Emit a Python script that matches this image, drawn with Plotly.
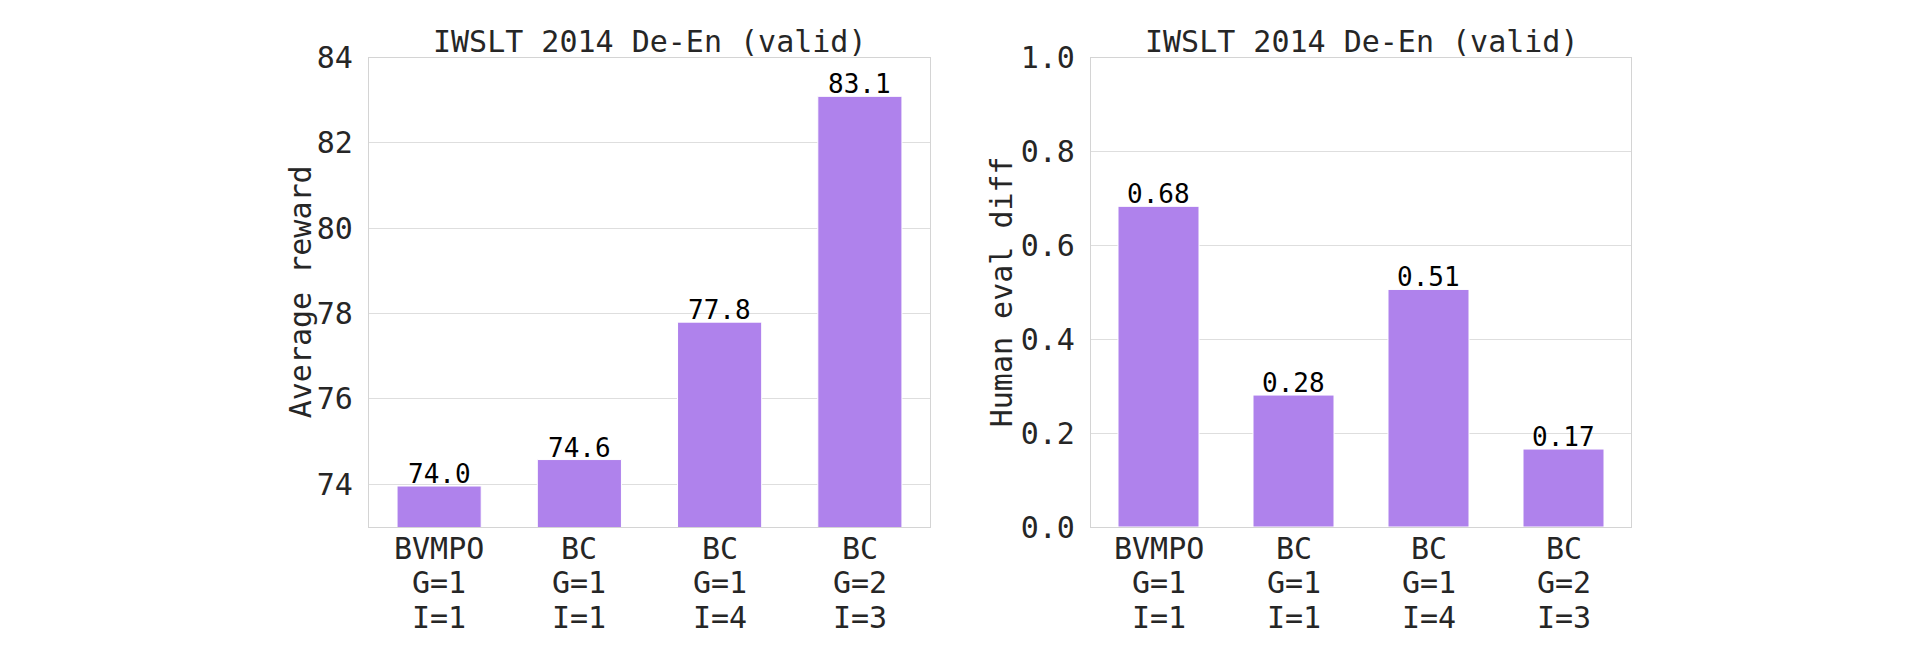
import plotly.graph_objects as go

# ---- data ----
methods = ["BVMPO", "BC", "BC", "BC"]
g_labels = ["G=1", "G=1", "G=1", "G=2"]
i_labels = ["I=1", "I=1", "I=4", "I=3"]
avg_reward = [73.96, 74.58, 77.8, 83.09]
human_eval_diff = [0.683, 0.281, 0.506, 0.166]
panel_title = "IWSLT 2014 De-En (valid)"
left_ylabel = "Average reward"
right_ylabel = "Human eval diff"
left_yticks = [74, 76, 78, 80, 82, 84]
right_yticks = [0.0, 0.2, 0.4, 0.6, 0.8, 1.0]

categories = [f"{m}<br>{g}<br>{i}" for m, g, i in zip(methods, g_labels, i_labels)]

FONT = "DejaVu Sans Mono"
TXT = "#262626"
BAR = "#af82ec"
GRID = "#dedede"
FRAME = "#d4d4d4"
W, H = 1930, 660

L_dom = [369 / W, 930 / W]
R_dom = [1091 / W, 1631 / W]
Y_dom = [1 - 527 / H, 1 - 57.5 / H]

fig = go.Figure()
fig.add_trace(go.Bar(
    x=categories, y=avg_reward, xaxis="x", yaxis="y", width=0.6,
    marker=dict(color=BAR, line=dict(color="#ffffff", width=1)),
    showlegend=False,
))
fig.add_trace(go.Bar(
    x=categories, y=human_eval_diff, xaxis="x2", yaxis="y2", width=0.6,
    marker=dict(color=BAR, line=dict(color="#ffffff", width=1)),
    showlegend=False,
))

axis_common = dict(showline=True, mirror=True, linecolor=FRAME, linewidth=1.2,
                   zeroline=False, automargin=False)
xcommon = dict(axis_common, showgrid=False, showticklabels=False, ticks="",
               type="category")
ycommon = dict(axis_common, showgrid=True, gridcolor=GRID, gridwidth=1.2,
               ticks="outside", ticklen=9, tickcolor="rgba(0,0,0,0)",
               tickfont=dict(family=FONT, size=30, color=TXT))

fig.update_layout(
    width=W, height=H,
    margin=dict(l=0, r=0, t=0, b=0, pad=0, autoexpand=False),
    paper_bgcolor="white", plot_bgcolor="white",
    bargap=0.4,
    font=dict(family=FONT, color=TXT),
    xaxis=dict(xcommon, domain=L_dom, anchor="y"),
    yaxis=dict(ycommon, domain=Y_dom, anchor="x", range=[73, 84],
               tickvals=left_yticks, ticktext=[str(v) for v in left_yticks]),
    xaxis2=dict(xcommon, domain=R_dom, anchor="y2"),
    yaxis2=dict(ycommon, domain=Y_dom, anchor="x2", range=[0, 1.0],
                tickvals=right_yticks, ticktext=[f"{v:.1f}" for v in right_yticks]),
)

ann = []
# bar value labels
for xref, yref, vals, fmt in (("x", "y", avg_reward, "{:.1f}"),
                              ("x2", "y2", human_eval_diff, "{:.2f}")):
    for cat, v in zip(categories, vals):
        ann.append(dict(text=fmt.format(v), xref=xref, yref=yref, x=cat, y=v,
                        xanchor="center", yanchor="bottom", yshift=-5,
                        showarrow=False,
                        font=dict(family=FONT, size=26, color="#000000")))
# panel titles
for dom in (L_dom, R_dom):
    ann.append(dict(text=panel_title, xref="paper", yref="paper",
                    x=(dom[0] + dom[1]) / 2, y=1 - 41 / H,
                    xanchor="center", yanchor="middle", showarrow=False,
                    font=dict(family=FONT, size=30, color=TXT)))
# y-axis titles
for xpix, label in ((300, left_ylabel), (1001, right_ylabel)):
    ann.append(dict(text=label, xref="paper", yref="paper",
                    x=xpix / W, y=(Y_dom[0] + Y_dom[1]) / 2, textangle=-90,
                    xanchor="center", yanchor="middle", showarrow=False,
                    font=dict(family=FONT, size=30, color=TXT)))
# multi-line category labels
line_y = [548, 582.5, 617]
for xref in ("x", "x2"):
    for cat, m, g, i in zip(categories, methods, g_labels, i_labels):
        for txt, ypix in zip((m, g, i), line_y):
            ann.append(dict(text=txt, xref=xref, yref="paper", x=cat,
                            y=1 - ypix / H, xanchor="center", yanchor="middle",
                            showarrow=False,
                            font=dict(family=FONT, size=30, color=TXT)))
fig.update_layout(annotations=ann)

fig.write_html("out.html")
